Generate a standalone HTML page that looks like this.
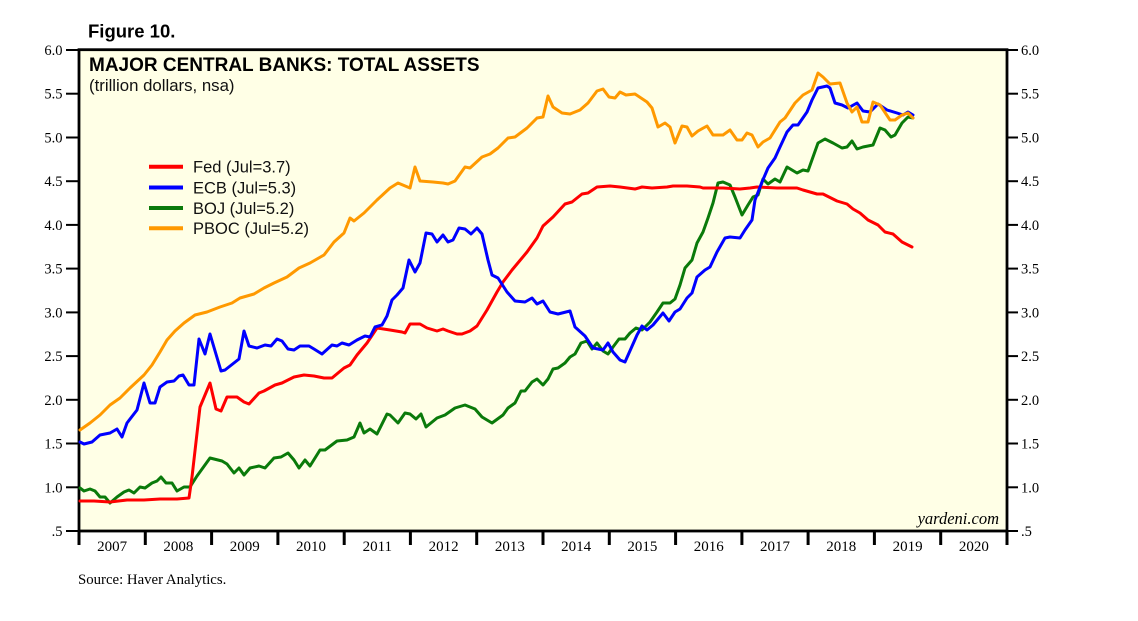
<!DOCTYPE html>
<html><head><meta charset="utf-8"><style>
html,body{margin:0;padding:0;background:#fff;}
svg{display:block;}
.ax{font-family:"Liberation Serif",serif;font-size:14.5px;fill:#000;}
.yr{font-family:"Liberation Serif",serif;font-size:15px;fill:#000;}
.lg{font-family:"Liberation Sans",sans-serif;font-size:16.5px;fill:#111;}
</style></head><body>
<svg width="1138" height="621" viewBox="0 0 1138 621" xmlns="http://www.w3.org/2000/svg">
<rect x="0" y="0" width="1138" height="621" fill="#fff"/>
<text x="88" y="37.7" font-family="Liberation Sans, sans-serif" font-weight="bold" font-size="18.5" fill="#000">Figure 10.</text>
<rect x="79" y="49.7" width="928" height="481.3" fill="#FFFFE6" stroke="#000" stroke-width="2.8"/>
<text x="89" y="71" font-family="Liberation Sans, sans-serif" font-weight="bold" font-size="19" fill="#000">MAJOR CENTRAL BANKS: TOTAL ASSETS</text>
<text x="89" y="91" font-family="Liberation Sans, sans-serif" font-size="16.8" fill="#111">(trillion dollars, nsa)</text>

<g stroke="#000" stroke-width="2">
<line x1="66" y1="50" x2="78" y2="50"/><line x1="66" y1="93.7" x2="78" y2="93.7"/><line x1="66" y1="137.5" x2="78" y2="137.5"/><line x1="66" y1="181.2" x2="78" y2="181.2"/><line x1="66" y1="224.9" x2="78" y2="224.9"/><line x1="66" y1="268.6" x2="78" y2="268.6"/><line x1="66" y1="312.4" x2="78" y2="312.4"/><line x1="66" y1="356.1" x2="78" y2="356.1"/><line x1="66" y1="399.8" x2="78" y2="399.8"/><line x1="66" y1="443.5" x2="78" y2="443.5"/><line x1="66" y1="487.3" x2="78" y2="487.3"/><line x1="66" y1="531" x2="78" y2="531"/>
<line x1="1008" y1="50" x2="1018" y2="50"/><line x1="1008" y1="93.7" x2="1018" y2="93.7"/><line x1="1008" y1="137.5" x2="1018" y2="137.5"/><line x1="1008" y1="181.2" x2="1018" y2="181.2"/><line x1="1008" y1="224.9" x2="1018" y2="224.9"/><line x1="1008" y1="268.6" x2="1018" y2="268.6"/><line x1="1008" y1="312.4" x2="1018" y2="312.4"/><line x1="1008" y1="356.1" x2="1018" y2="356.1"/><line x1="1008" y1="399.8" x2="1018" y2="399.8"/><line x1="1008" y1="443.5" x2="1018" y2="443.5"/><line x1="1008" y1="487.3" x2="1018" y2="487.3"/><line x1="1008" y1="531" x2="1018" y2="531"/>
</g>
<g stroke="#000" stroke-width="3">
<line x1="79" y1="531" x2="79" y2="545"/><line x1="145.3" y1="531" x2="145.3" y2="545"/><line x1="211.6" y1="531" x2="211.6" y2="545"/><line x1="277.9" y1="531" x2="277.9" y2="545"/><line x1="344.2" y1="531" x2="344.2" y2="545"/><line x1="410.4" y1="531" x2="410.4" y2="545"/><line x1="476.7" y1="531" x2="476.7" y2="545"/><line x1="543" y1="531" x2="543" y2="545"/><line x1="609.3" y1="531" x2="609.3" y2="545"/><line x1="675.6" y1="531" x2="675.6" y2="545"/><line x1="741.9" y1="531" x2="741.9" y2="545"/><line x1="808.1" y1="531" x2="808.1" y2="545"/><line x1="874.4" y1="531" x2="874.4" y2="545"/><line x1="940.7" y1="531" x2="940.7" y2="545"/><line x1="1007" y1="531" x2="1007" y2="545"/>
</g>
<g class="ax" text-anchor="end">
<text x="62.5" y="55">6.0</text><text x="62.5" y="98.7">5.5</text><text x="62.5" y="142.5">5.0</text><text x="62.5" y="186.2">4.5</text><text x="62.5" y="229.9">4.0</text><text x="62.5" y="273.6">3.5</text><text x="62.5" y="317.4">3.0</text><text x="62.5" y="361.1">2.5</text><text x="62.5" y="404.8">2.0</text><text x="62.5" y="448.5">1.5</text><text x="62.5" y="492.3">1.0</text><text x="62.5" y="536">.5</text>
</g>
<g class="ax">
<text x="1021" y="55">6.0</text><text x="1021" y="98.7">5.5</text><text x="1021" y="142.5">5.0</text><text x="1021" y="186.2">4.5</text><text x="1021" y="229.9">4.0</text><text x="1021" y="273.6">3.5</text><text x="1021" y="317.4">3.0</text><text x="1021" y="361.1">2.5</text><text x="1021" y="404.8">2.0</text><text x="1021" y="448.5">1.5</text><text x="1021" y="492.3">1.0</text><text x="1021" y="536">.5</text>
</g>
<g class="yr" text-anchor="middle">
<text x="112.1" y="551">2007</text><text x="178.4" y="551">2008</text><text x="244.7" y="551">2009</text><text x="311" y="551">2010</text><text x="377.3" y="551">2011</text><text x="443.6" y="551">2012</text><text x="509.9" y="551">2013</text><text x="576.1" y="551">2014</text><text x="642.4" y="551">2015</text><text x="708.7" y="551">2016</text><text x="775" y="551">2017</text><text x="841.3" y="551">2018</text><text x="907.6" y="551">2019</text><text x="973.9" y="551">2020</text>
</g>
<text x="999" y="524" text-anchor="end" font-family="Liberation Serif, serif" font-style="italic" font-size="16.5" fill="#000">yardeni.com</text>
<text x="78" y="584" font-family="Liberation Serif, serif" font-size="14.8" fill="#000">Source: Haver Analytics.</text>

<g fill="none" stroke-width="3" stroke-linejoin="round" stroke-linecap="round">
<polyline stroke="#0A7A0A" points="80,488 84,491 90,489 95,491 100,497 105,497 110,503 117,497 124,492 129,490 134,493 140,487 145,488 152,483 157,481 161,477 166,483 172,483 177,491 184,487 190,487 197,476 210,458 222,461 227,464 234,473 239,468 244,475 250,468 259,466 265,468 274,458 281,457 288,453 294,460 299,468 305,460 310,466 320,450 325,450 337,441 347,440 354,437 360,423 364,433 370,429 377,434 387,414 390,415 398,423 405,413 410,414 416,419 421,414 426,427 437,418 445,415 455,408 465,405 475,409 482,417 492,423 503,415 508,408 515,403 521,391 525,391 532,382 537,379 543,385 548,379 553,369 558,368 565,363 570,357 575,354 581,343 587,341 592,349 597,343 603,351 608,354 613,347 619,339 625,339 630,333 636,328 642,330 650,322 657,312 663,303 670,303 675,299 680,285 685,268 692,260 697,243 703,232 708,218 713,203 718,183 723,182 730,185 735,197 742,215 748,205 753,197 758,195 763,179 768,184 775,179 780,182 787,167 797,173 803,170 808,171 818,143 825,139 833,143 842,148 847,147 852,141 857,149 863,147 873,145 880,128 885,130 891,137 895,135 902,123 908,117 913,118"/>
<polyline stroke="#FF0000" points="80,501 94,501 110,502 127,500 144,500 160,499 177,499 189,498 192,477 200,407 210,383 216,409 221,411 227,397 237,397 244,402 249,404 259,393 264,391 275,385 282,383 294,377 304,375 314,376 324,378 332,378 344,368 350,365 357,355 367,343 377,328 390,330 402,332 405,333 410,324 420,324 427,328 437,331 443,329 448,331 457,334 462,334 470,331 477,326 487,310 497,292 503,282 512,270 517,264 527,252 537,238 543,226 553,217 565,204 572,202 582,194 588,193 597,187 610,186 620,187 635,189 642,187 652,188 667,187 673,186 687,186 700,187 703,188 723,188 740,189 750,188 757,187 777,188 797,188 803,190 817,194 823,194 837,201 847,204 853,209 860,213 868,220 878,225 885,232 893,234 902,242 912,247"/>
<polyline stroke="#0000FF" points="80,442 84,444 92,442 100,435 110,433 117,429 122,437 127,423 137,410 144,383 150,403 155,403 160,387 167,382 174,381 179,376 183,375 189,385 194,385 199,339 205,354 210,334 221,371 225,370 239,359 244,331 249,346 257,348 265,345 271,346 277,339 282,341 288,349 294,350 300,346 309,346 314,349 322,354 332,345 337,346 342,343 349,345 357,340 365,336 370,337 375,327 382,325 387,316 392,300 397,295 403,288 409,260 415,272 420,263 426,233 432,234 437,242 443,235 448,242 453,240 459,228 465,229 471,234 477,228 482,234 488,260 492,275 498,278 507,292 515,301 525,302 532,298 537,304 543,301 550,312 558,314 570,311 575,327 585,336 593,348 603,350 608,343 613,352 620,360 625,362 637,335 642,326 647,330 653,325 663,313 669,321 675,312 680,309 687,298 692,293 697,277 705,270 710,267 717,252 725,238 730,237 740,238 745,230 752,220 755,200 762,182 768,168 775,158 780,147 787,132 793,125 798,125 807,112 812,100 818,88 827,86 830,88 835,103 842,105 848,108 857,103 863,111 870,112 878,104 887,110 897,113 903,115 908,112 913,115"/>
<polyline stroke="#FF9900" points="80,430 90,423 100,415 110,405 120,398 130,388 144,375 152,365 160,352 167,340 175,331 184,323 195,315 207,312 220,307 232,303 240,298 254,294 264,288 274,283 287,277 299,268 310,263 324,255 334,242 344,233 350,218 354,221 364,213 377,200 390,188 398,183 410,188 415,167 420,181 433,182 443,183 448,184 455,181 465,167 470,168 482,157 490,154 498,148 508,138 515,137 527,128 537,118 543,117 548,96 553,107 562,113 570,114 580,110 588,103 597,91 603,89 609,97 615,98 620,92 626,95 635,94 647,102 652,108 658,127 665,123 670,127 675,143 682,126 687,127 692,136 698,131 707,126 713,135 723,135 730,130 737,140 742,140 747,133 752,135 758,147 763,142 770,138 780,122 785,118 795,103 803,95 812,90 818,73 823,77 830,84 840,83 847,103 852,112 857,107 862,122 868,122 873,102 880,105 890,120 895,120 902,115 908,113 913,118"/>
</g>

<g stroke-width="4" stroke-linecap="butt">
<line x1="149" y1="166.7" x2="183" y2="166.7" stroke="#FF0000"/>
<line x1="149" y1="187.5" x2="183" y2="187.5" stroke="#0000FF"/>
<line x1="149" y1="208" x2="183" y2="208" stroke="#0A7A0A"/>
<line x1="149" y1="228.3" x2="183" y2="228.3" stroke="#FF9900"/>
</g>
<g class="lg">
<text x="193" y="172.7">Fed (Jul=3.7)</text>
<text x="193" y="193.3">ECB (Jul=5.3)</text>
<text x="193" y="213.8">BOJ (Jul=5.2)</text>
<text x="193" y="234.2">PBOC (Jul=5.2)</text>
</g>
</svg>
</body></html>
